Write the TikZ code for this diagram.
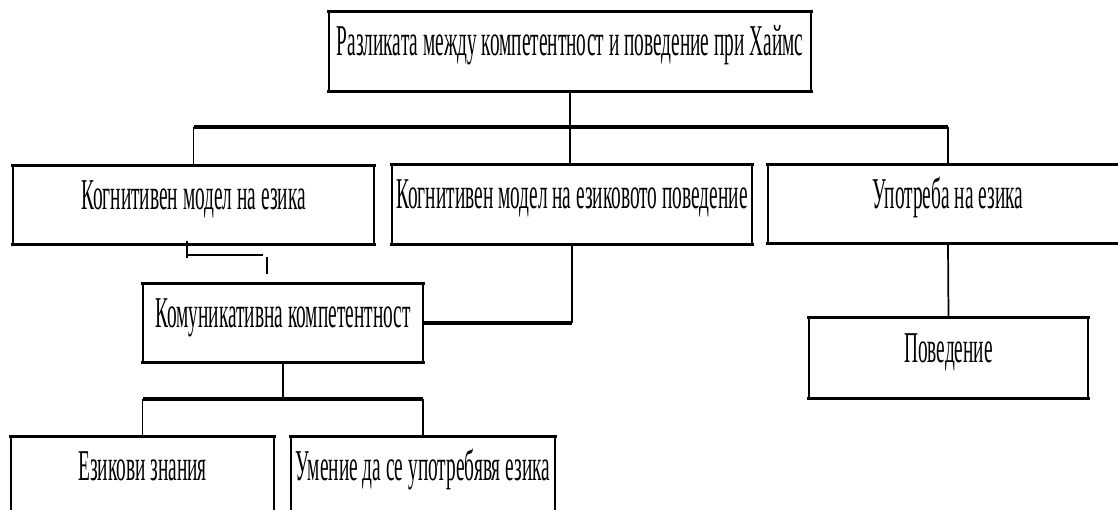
\documentclass[tikz,border=0pt]{standalone}
\usepackage{fontspec}
\setmainfont{Liberation Serif}[FakeStretch=0.44,Script=Cyrillic,Language=Bulgarian]
\begin{document}
\begin{tikzpicture}[x=0.75pt,y=-0.75pt,
  box/.style={rectangle, inner sep=0pt, draw=none,
    font=\fontsize{33}{36}\selectfont, text height=0.66em, text depth=0pt},
  rim/.style={line width=2.6pt, line cap=rect},
  side/.style={line width=1.4pt},
  hline/.style={line width=2.5pt},
  vline/.style={line width=1.3pt}]
\useasboundingbox (0,0) rectangle (1118,510);
\clip (0,0) rectangle (1118,510);

% draws the frame of a box: heavy top and bottom, light sides
\newcommand\boxrims[1]{%
  \draw[side] (#1.north west) -- (#1.south west) (#1.north east) -- (#1.south east);
  \draw[rim] (#1.north west) -- (#1.north east) (#1.south west) -- (#1.south east);}

% boxes
\node[box, minimum width=482*0.75pt, minimum height=79*0.75pt] (top) at (570,51.5)
  {Разликата между компетентност и поведение при Хаймс};
\node[box, minimum width=361*0.75pt, minimum height=78*0.75pt] (lang) at (193.5,205)
  {Когнитивен модел на езика};
\node[box, minimum width=360*0.75pt, minimum height=79*0.75pt] (beh) at (572,204.5)
  {Когнитивен модел на езиковото поведение};
\node[box, minimum width=360*0.75pt, minimum height=78*0.75pt] (use) at (948,204)
  {Употреба на езика};
\node[box, minimum width=280*0.75pt, minimum height=78*0.75pt] (comm) at (283,323)
  {Комуникативна компетентност};
\node[box, minimum width=279*0.75pt, minimum height=80*0.75pt] (act) at (948.5,358)
  {Поведение};
\node[box, minimum width=263*0.75pt, minimum height=78*0.75pt] (know) at (142.5,476)
  {Езикови знания};
\node[box, minimum width=264*0.75pt, minimum height=78*0.75pt] (skill) at (423,476)
  {Умение да се употребявя езика};

\foreach \n in {top,lang,beh,use,comm,act,know,skill}{\boxrims{\n}}

% upper tree
\coordinate (bus) at (570,127);
\draw[vline] (top.south) -- (top.south |- beh.north);
\draw[hline] (lang.north |- bus) -- (use.north |- bus);
\draw[vline] (lang.north |- bus) -- (lang.north);
\draw[vline] (use.north |- bus) -- (use.north);
\draw[vline] (use.south) -- (act.north);

% link from the middle box to the competence box
\coordinate (bend) at (beh.south |- comm.east);
\draw[vline] (beh.south) -- (bend);
\draw[hline] (bend) -- (comm.east);

% loose bracket under the language model box
\coordinate (t1) at (187,241);
\coordinate (t2) at (187,258);
\coordinate (h2) at (263,255);
\coordinate (k1) at (267,257);
\coordinate (k2) at (267,274);
\draw[line width=1.7pt] (t1) -- (t2);
\draw[line width=2.1pt] (t1 |- h2) -- (h2);
\draw[line width=1.8pt] (k1) -- (k2);

% lower tree
\coordinate (bus2) at (283,399);
\draw[vline] (comm.south) -- (bus2);
\draw[hline] (know.north |- bus2) -- (skill.north |- bus2);
\draw[vline] (know.north |- bus2) -- (know.north);
\draw[vline] (skill.north |- bus2) -- (skill.north);
\end{tikzpicture}
\end{document}
